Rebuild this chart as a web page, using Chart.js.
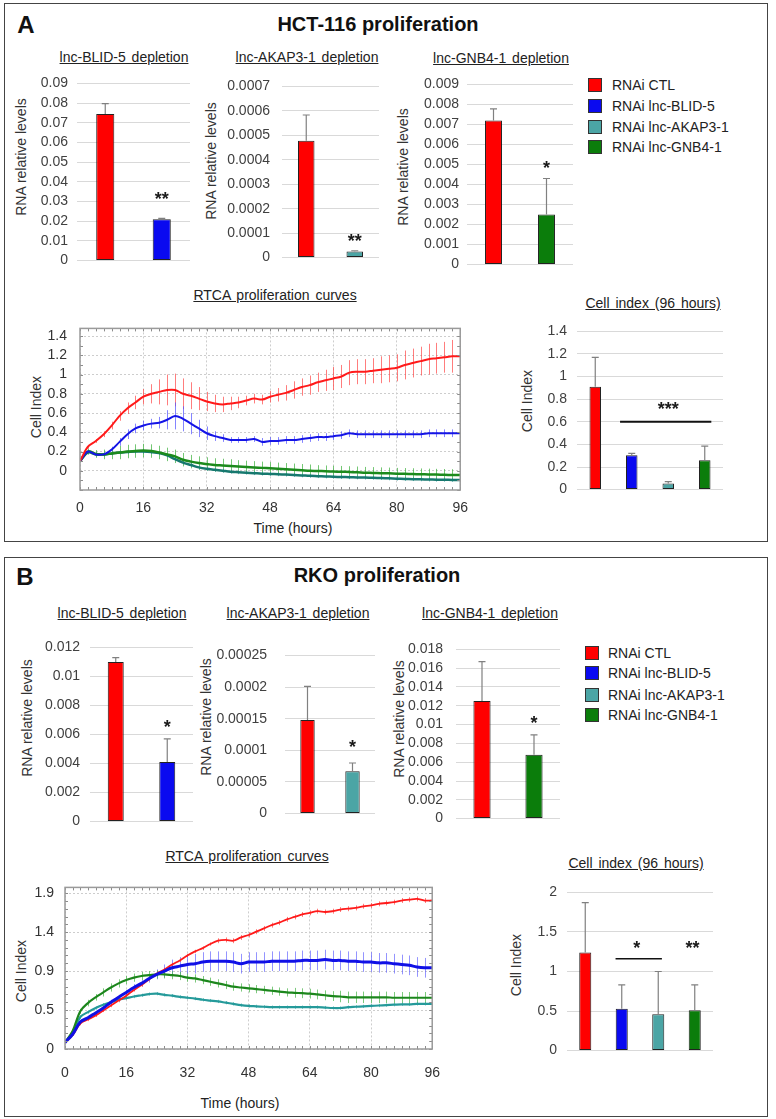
<!DOCTYPE html>
<html>
<head>
<meta charset="utf-8">
<script src="https://cdn.jsdelivr.net/npm/chart.js@4.4.0/dist/chart.umd.min.js"></script>
<style>
  body { margin: 0; background: #fff; font-family: "Liberation Sans", Arial, sans-serif; color: #222; }
  #page { position: relative; width: 776px; height: 1119px; overflow: hidden; }
  .panel { position: absolute; border: 1.5px solid #444; box-sizing: border-box; }
  .t { position: absolute; white-space: pre; line-height: 1; transform: translate(-50%, -50%); font-size: 14px; }
  .u { text-decoration: underline; word-spacing: 2px; color: #222; }
  .rot { transform: translate(-50%, -50%) rotate(-90deg); color: #333; }
  .big { font-weight: bold; font-size: 20px; color: #111; }
  .lab { font-weight: bold; font-size: 24px; color: #111; }
  canvas { position: absolute; }
  .lg { position: absolute; font-size: 14px; white-space: nowrap; line-height: 1; color: #222; }
  .sq { position: absolute; width: 14px; height: 14px; border: 1px solid #333; box-sizing: border-box; }
</style>
</head>
<body>
<div id="page">
  <div class="panel" style="left:4px;top:3px;width:764px;height:539px"></div>
  <div class="panel" style="left:4px;top:557px;width:764px;height:560px"></div>
</div>
<script>
const FONT = '"Liberation Sans", Arial, sans-serif';
Chart.defaults.font.family = FONT;

// groups and colours
const groups = ["RNAi CTL", "RNAi lnc-BLID-5", "RNAi lnc-AKAP3-1", "RNAi lnc-GNB4-1"];
const groupColors = ["#ff0000", "#0a0af0", "#4ba5a5", "#0b7d0b"];

// ---- HCT-116 depletion bars ----
const hctBlid = [0.0745, 0.021];
const hctBlidSd = [0.0052, 0.0004];
const hctAkap = [0.000478, 0.0000245];
const hctAkapSd = [0.000105, 0.0000035];
const hctGnb = [0.0072, 0.0025];
const hctGnbSd = [0.00058, 0.0018];
const hctBlidTicks = ["0", "0.01", "0.02", "0.03", "0.04", "0.05", "0.06", "0.07", "0.08", "0.09"];
const hctAkapTicks = ["0", "0.0001", "0.0002", "0.0003", "0.0004", "0.0005", "0.0006", "0.0007"];
const hctGnbTicks = ["0", "0.001", "0.002", "0.003", "0.004", "0.005", "0.006", "0.007", "0.008", "0.009"];

// ---- HCT-116 cell index at 96 h ----
const hctCell = [0.91, 0.305, 0.055, 0.26];
const hctCellSd = [0.26, 0.015, 0.015, 0.125];
const hctCellTicks = ["0", "0.2", "0.4", "0.6", "0.8", "1", "1.2", "1.4"];

// ---- RKO depletion bars ----
const rkoBlid = [0.011, 0.0041];
const rkoBlidSd = [0.0003, 0.0016];
const rkoAkap = [0.000148, 0.000067];
const rkoAkapSd = [0.000053, 0.000013];
const rkoGnb = [0.0125, 0.0068];
const rkoGnbSd = [0.0042, 0.0021];
const rkoBlidTicks = ["0", "0.002", "0.004", "0.006", "0.008", "0.01", "0.012"];
const rkoAkapTicks = ["0", "0.00005", "0.0001", "0.00015", "0.0002", "0.00025"];
const rkoGnbTicks = ["0", "0.002", "0.004", "0.006", "0.008", "0.01", "0.012", "0.014", "0.016", "0.018"];

// ---- RKO cell index at 96 h ----
const rkoCell = [1.24, 0.53, 0.46, 0.51];
const rkoCellSd = [0.63, 0.30, 0.54, 0.32];
const rkoCellTicks = ["0", "0.5", "1", "1.5", "2"];

// ---- RTCA curves (every 2 h) ----
const hours = [0,2,4,6,8,10,12,14,16,18,20,22,24,26,28,30,32,34,36,38,40,42,44,46,48,50,52,54,56,58,60,62,64,66,68,70,72,74,76,78,80,82,84,86,88,90,92,94,96];
const hourTicks = [0, 16, 32, 48, 64, 80, 96];

const hctRed = [0.10,0.25,0.31,0.38,0.47,0.57,0.65,0.71,0.77,0.80,0.82,0.84,0.84,0.80,0.78,0.75,0.72,0.70,0.69,0.70,0.71,0.73,0.75,0.74,0.77,0.79,0.81,0.84,0.87,0.89,0.92,0.94,0.96,0.98,1.02,1.03,1.03,1.04,1.05,1.06,1.07,1.10,1.12,1.14,1.16,1.17,1.18,1.19,1.19];
const hctRedSd = [0.01,0.02,0.02,0.03,0.04,0.05,0.06,0.07,0.08,0.10,0.13,0.16,0.17,0.16,0.14,0.12,0.10,0.09,0.08,0.07,0.06,0.05,0.05,0.05,0.06,0.07,0.08,0.09,0.09,0.10,0.10,0.11,0.12,0.12,0.13,0.13,0.13,0.13,0.14,0.14,0.14,0.15,0.15,0.15,0.16,0.16,0.16,0.17,0.17];
const hctBlue = [0.10,0.20,0.17,0.17,0.22,0.30,0.38,0.44,0.47,0.49,0.50,0.53,0.57,0.54,0.49,0.44,0.39,0.36,0.34,0.32,0.32,0.32,0.33,0.30,0.31,0.31,0.32,0.32,0.33,0.34,0.35,0.35,0.36,0.37,0.39,0.38,0.38,0.38,0.38,0.38,0.38,0.38,0.38,0.38,0.39,0.39,0.39,0.39,0.39];
const hctBlueSd = [0.01,0.02,0.02,0.02,0.03,0.04,0.05,0.05,0.05,0.05,0.06,0.10,0.14,0.13,0.11,0.09,0.07,0.05,0.04,0.03,0.03,0.03,0.03,0.04,0.04,0.04,0.04,0.04,0.04,0.04,0.04,0.04,0.04,0.04,0.04,0.04,0.04,0.04,0.04,0.04,0.04,0.04,0.04,0.04,0.04,0.04,0.04,0.04,0.04];
const hctGreen = [0.10,0.20,0.175,0.17,0.18,0.19,0.20,0.205,0.21,0.205,0.19,0.17,0.15,0.115,0.095,0.08,0.07,0.06,0.055,0.05,0.045,0.04,0.035,0.03,0.025,0.02,0.015,0.01,0.005,0.0,-0.002,-0.005,-0.008,-0.01,-0.013,-0.016,-0.02,-0.022,-0.025,-0.027,-0.03,-0.032,-0.034,-0.036,-0.038,-0.04,-0.042,-0.044,-0.045];
const hctGreenSd = [0.01,0.03,0.04,0.05,0.06,0.07,0.07,0.07,0.07,0.07,0.07,0.07,0.07,0.07,0.07,0.07,0.07,0.07,0.07,0.07,0.065,0.065,0.065,0.065,0.065,0.065,0.065,0.065,0.065,0.065,0.06,0.06,0.06,0.06,0.06,0.06,0.06,0.06,0.06,0.06,0.06,0.06,0.06,0.06,0.06,0.06,0.06,0.06,0.06];
const hctTeal = [0.10,0.19,0.17,0.17,0.18,0.19,0.195,0.20,0.20,0.195,0.185,0.16,0.12,0.085,0.06,0.035,0.02,0.01,0.0,-0.01,-0.015,-0.02,-0.025,-0.03,-0.033,-0.036,-0.04,-0.044,-0.048,-0.053,-0.056,-0.059,-0.062,-0.065,-0.067,-0.069,-0.071,-0.073,-0.076,-0.079,-0.082,-0.085,-0.087,-0.089,-0.091,-0.093,-0.094,-0.095,-0.096];
const hctTealSd = [0.01,0.02,0.02,0.02,0.02,0.02,0.02,0.02,0.02,0.02,0.02,0.02,0.02,0.02,0.02,0.02,0.02,0.02,0.02,0.02,0.02,0.02,0.02,0.02,0.02,0.02,0.02,0.02,0.02,0.02,0.02,0.02,0.02,0.02,0.02,0.02,0.02,0.02,0.02,0.02,0.02,0.02,0.02,0.02,0.02,0.02,0.02,0.02,0.02];
const hctRtcaTicks = ["0", "0.2", "0.4", "0.6", "0.8", "1", "1.2", "1.4"];

const rkoRed = [0.08,0.17,0.31,0.36,0.41,0.47,0.53,0.59,0.65,0.72,0.78,0.85,0.92,0.97,1.03,1.08,1.14,1.19,1.23,1.28,1.32,1.33,1.32,1.36,1.39,1.43,1.47,1.51,1.54,1.58,1.61,1.64,1.66,1.68,1.67,1.68,1.70,1.71,1.72,1.74,1.75,1.77,1.78,1.79,1.81,1.82,1.83,1.81,1.81];
const rkoRedSd = [0.01,0.01,0.02,0.02,0.02,0.02,0.02,0.02,0.02,0.02,0.02,0.02,0.02,0.02,0.02,0.02,0.02,0.02,0.02,0.02,0.03,0.03,0.03,0.03,0.03,0.03,0.03,0.03,0.03,0.03,0.03,0.03,0.03,0.03,0.03,0.03,0.03,0.03,0.03,0.03,0.03,0.03,0.03,0.03,0.03,0.03,0.03,0.03,0.03];
const rkoBlue = [0.08,0.18,0.33,0.38,0.44,0.50,0.57,0.63,0.69,0.75,0.80,0.86,0.91,0.95,0.99,1.01,1.03,1.04,1.06,1.07,1.07,1.07,1.06,1.04,1.06,1.06,1.06,1.07,1.07,1.07,1.07,1.08,1.08,1.08,1.09,1.08,1.08,1.07,1.07,1.06,1.06,1.05,1.05,1.04,1.03,1.02,1.00,0.99,0.99];
const rkoBlueSd = [0.01,0.01,0.02,0.02,0.02,0.02,0.03,0.03,0.03,0.04,0.04,0.05,0.06,0.08,0.10,0.11,0.12,0.12,0.12,0.12,0.12,0.12,0.12,0.12,0.12,0.12,0.12,0.12,0.12,0.12,0.12,0.12,0.12,0.12,0.12,0.12,0.12,0.12,0.12,0.12,0.12,0.12,0.12,0.12,0.12,0.12,0.12,0.12,0.12];
const rkoGreen = [0.08,0.22,0.46,0.56,0.63,0.69,0.75,0.80,0.84,0.87,0.89,0.90,0.91,0.91,0.90,0.89,0.87,0.86,0.84,0.82,0.80,0.78,0.76,0.75,0.74,0.73,0.72,0.71,0.70,0.69,0.685,0.68,0.675,0.665,0.655,0.645,0.64,0.63,0.63,0.63,0.63,0.63,0.63,0.625,0.625,0.625,0.625,0.625,0.625];
const rkoGreenSd = [0.01,0.02,0.03,0.04,0.04,0.05,0.05,0.05,0.05,0.05,0.05,0.05,0.05,0.05,0.05,0.05,0.05,0.05,0.05,0.05,0.05,0.05,0.05,0.05,0.05,0.05,0.05,0.05,0.05,0.05,0.06,0.06,0.06,0.06,0.06,0.06,0.07,0.07,0.07,0.07,0.07,0.07,0.07,0.07,0.07,0.07,0.07,0.07,0.07];
const rkoTeal = [0.08,0.20,0.39,0.45,0.50,0.54,0.57,0.60,0.62,0.64,0.655,0.67,0.675,0.66,0.65,0.635,0.625,0.615,0.60,0.59,0.58,0.565,0.55,0.535,0.525,0.52,0.515,0.51,0.51,0.51,0.51,0.51,0.51,0.51,0.505,0.50,0.50,0.51,0.515,0.52,0.525,0.53,0.535,0.54,0.545,0.545,0.55,0.55,0.55];
const rkoTealSd = [0.01,0.02,0.02,0.02,0.02,0.02,0.02,0.02,0.02,0.02,0.02,0.02,0.02,0.02,0.02,0.02,0.02,0.02,0.02,0.02,0.02,0.02,0.02,0.02,0.02,0.02,0.02,0.02,0.02,0.02,0.02,0.02,0.02,0.02,0.02,0.02,0.02,0.02,0.02,0.02,0.02,0.02,0.02,0.02,0.02,0.02,0.02,0.02,0.02];
const rkoRtcaTickValues = [0, 0.475, 0.95, 1.425, 1.9];
const rkoRtcaTicks = ["0", "0.5", "0.9", "1.4", "1.9"];

const page = document.getElementById("page");

function text(str, cx, cy, cls) {
  const d = document.createElement("div");
  d.className = "t " + cls;
  d.textContent = str;
  d.style.left = cx + "px";
  d.style.top = cy + "px";
  page.appendChild(d);
}

function legend(x, rows, textX) {
  groups.forEach((g, i) => {
    const s = document.createElement("div");
    s.className = "sq";
    s.style.left = x + "px";
    s.style.top = (rows[i] - 7) + "px";
    s.style.background = groupColors[i];
    page.appendChild(s);
    const l = document.createElement("div");
    l.className = "lg";
    l.textContent = g;
    l.style.left = textX + "px";
    l.style.top = (rows[i] - 7) + "px";
    page.appendChild(l);
  });
}

function addCanvas(l, t, w, h) {
  const cv = document.createElement("canvas");
  cv.width = w; cv.height = h;
  cv.style.left = l + "px"; cv.style.top = t + "px";
  page.appendChild(cv);
  return cv;
}

// error bars, stars and significance lines on the bar charts
function barMarks(marks) {
  return {
    id: "barMarks",
    afterDatasetsDraw(chart) {
      const { ctx, scales: { x, y } } = chart;
      const ds = chart.data.datasets[0];
      ctx.save();
      ctx.strokeStyle = "#808080";
      ctx.lineWidth = 1.2;
      chart.getDatasetMeta(0).data.forEach((bar, i) => {
        const top = y.getPixelForValue(ds.data[i] + ds.err[i]);
        ctx.beginPath();
        ctx.moveTo(bar.x, bar.y);
        ctx.lineTo(bar.x, top);
        ctx.moveTo(bar.x - 3.5, top);
        ctx.lineTo(bar.x + 3.5, top);
        ctx.stroke();
      });
      ctx.fillStyle = "#1a1a1a";
      ctx.textAlign = "center";
      ctx.font = "bold 18px " + FONT;
      (marks.stars || []).forEach(s => {
        ctx.fillText(s.text, x.getPixelForValue(s.at), y.getPixelForValue(s.y) + 10);
      });
      ctx.strokeStyle = "#111";
      (marks.lines || []).forEach(l => {
        ctx.lineWidth = l.w;
        ctx.beginPath();
        ctx.moveTo(x.getPixelForValue(l.from), y.getPixelForValue(l.y));
        ctx.lineTo(x.getPixelForValue(l.to), y.getPixelForValue(l.y));
        ctx.stroke();
      });
      ctx.restore();
    }
  };
}

function barChart(geo, vals, sds, colors, ticks, pct, marks) {
  const padL = 75, padT = 14, padR = 8, padB = 8;
  const cv = addCanvas(geo.l - padL, geo.t - padT, geo.r - geo.l + padL + padR, geo.b - geo.t + padT + padB);
  new Chart(cv, {
    type: "bar",
    data: {
      labels: vals.map((v, i) => i),
      datasets: [{
        data: vals, err: sds, backgroundColor: colors, borderColor: "#222",
        borderWidth: 1, borderSkipped: false, barPercentage: pct, categoryPercentage: 1
      }]
    },
    options: {
      responsive: false, animation: false, events: [],
      layout: { padding: { top: padT, right: padR, bottom: padB, left: 0 } },
      plugins: { legend: { display: false }, tooltip: { enabled: false } },
      scales: {
        x: { display: false },
        y: {
          min: 0, max: +ticks[ticks.length - 1],
          afterBuildTicks: s => { s.ticks = ticks.map(v => ({ value: +v })); },
          afterFit: s => { s.width = padL; },
          ticks: { padding: geo.pad, color: "#404040", font: { size: 14 }, callback: (v, i) => ticks[i] },
          grid: { color: "#d9d9d9", drawTicks: false },
          border: { display: false }
        }
      }
    },
    plugins: [barMarks(marks)]
  });
}

// error bars, frame and small ticks on the RTCA plots
function rtcaDeco(minorY) {
  return {
    id: "rtcaDeco",
    beforeDatasetsDraw(chart) {
      const { ctx, chartArea: a, scales: { x, y } } = chart;
      ctx.save();
      ctx.beginPath();
      ctx.rect(a.left, a.top, a.right - a.left, a.bottom - a.top);
      ctx.clip();
      ctx.lineWidth = 1;
      chart.data.datasets.forEach(ds => {
        ctx.strokeStyle = ds.errColor;
        ctx.beginPath();
        ds.data.forEach((p, i) => {
          const px = Math.round(x.getPixelForValue(p.x)) + 0.5;
          ctx.moveTo(px, y.getPixelForValue(p.y - ds.err[i]));
          ctx.lineTo(px, y.getPixelForValue(p.y + ds.err[i]));
        });
        ctx.stroke();
      });
      ctx.restore();
    },
    afterDraw(chart) {
      const { ctx, chartArea: a, scales: { x, y } } = chart;
      ctx.save();
      ctx.strokeStyle = "#8c8c8c";
      ctx.lineWidth = 1;
      ctx.beginPath();
      hours.forEach(h => {
        const px = Math.round(x.getPixelForValue(h)) + 0.5;
        ctx.moveTo(px, a.top); ctx.lineTo(px, a.top + 3);
        ctx.moveTo(px, a.bottom); ctx.lineTo(px, a.bottom - 3);
      });
      for (let v = y.min; v <= y.max + 1e-9; v += minorY) {
        const py = Math.round(y.getPixelForValue(v)) + 0.5;
        ctx.moveTo(a.left, py); ctx.lineTo(a.left + 3, py);
        ctx.moveTo(a.right, py); ctx.lineTo(a.right - 3, py);
      }
      ctx.stroke();
      ctx.strokeStyle = "#9a9a9a";
      ctx.lineWidth = 1.5;
      ctx.strokeRect(a.left, a.top, a.right - a.left, a.bottom - a.top);
      ctx.restore();
    }
  };
}

function rtcaChart(geo, series, yVals, yLabels, yMin, yMax, minorY) {
  const padL = 60, padT = 8, padR = 14, padB = 40;
  const cv = addCanvas(geo.l - padL, geo.t - padT, geo.r - geo.l + padL + padR, geo.b - geo.t + padT + padB);
  new Chart(cv, {
    type: "line",
    data: {
      datasets: series.map(s => ({
        data: hours.map((h, i) => ({ x: h, y: s.vals[i] })),
        err: s.err, errColor: s.errColor, borderColor: s.color, borderWidth: s.w,
        pointRadius: 0, tension: 0.35, fill: false
      }))
    },
    options: {
      responsive: false, animation: false, events: [],
      layout: { padding: { top: padT, right: padR, bottom: 0, left: 0 } },
      plugins: { legend: { display: false }, tooltip: { enabled: false } },
      scales: {
        x: {
          type: "linear", min: 0, max: 96,
          afterBuildTicks: s => { s.ticks = hourTicks.map(v => ({ value: v })); },
          afterFit: s => { s.height = padB; },
          ticks: { padding: geo.xPad, color: "#333", font: { size: 14 } },
          grid: { color: "#cdcdcd", drawTicks: false },
          border: { display: false, dash: [2, 2] }
        },
        y: {
          min: yMin, max: yMax,
          afterBuildTicks: s => { s.ticks = yVals.map(v => ({ value: v })); },
          afterFit: s => { s.width = padL; },
          ticks: { padding: geo.yPad, color: "#333", font: { size: 14 }, callback: (v, i) => yLabels[i] },
          grid: { color: "#cdcdcd", drawTicks: false },
          border: { display: false, dash: [2, 2] }
        }
      }
    },
    plugins: [rtcaDeco(minorY)]
  });
}

// ---------- panel A ----------
text("A", 26, 25, "lab");
text("HCT-116 proliferation", 378, 24, "big");
text("lnc-BLID-5 depletion", 124, 57, "u");
text("lnc-AKAP3-1 depletion", 307, 57, "u");
text("lnc-GNB4-1 depletion", 501, 58, "u");
text("RNA relative levels", 21, 157, "rot");
text("RNA relative levels", 211, 161, "rot");
text("RNA relative levels", 403, 167, "rot");
legend(588, [85, 106, 127, 147], 612);

barChart({ l: 77, t: 80, r: 190, b: 270, pad: 9 }, hctBlid, hctBlidSd, [groupColors[0], groupColors[1]],
  hctBlidTicks, 0.32, { stars: [{ text: "**", at: 1, y: 0.0332 }] });
barChart({ l: 282, t: 80, r: 379, b: 270, pad: 12 }, hctAkap, hctAkapSd, [groupColors[0], groupColors[2]],
  hctAkapTicks, 0.34, { stars: [{ text: "**", at: 1, y: 0.0000847 }] });
barChart({ l: 467, t: 82, r: 573, b: 273, pad: 8 }, hctGnb, hctGnbSd, [groupColors[0], groupColors[3]],
  hctGnbTicks, 0.32, { stars: [{ text: "*", at: 1, y: 0.005 }] });

text("RTCA proliferation curves", 275, 295, "u");
text("Cell Index", 36, 407, "rot");
text("Time (hours)", 293, 528, "");
rtcaChart({ l: 80, t: 315, r: 464, b: 490, yPad: 13, xPad: 10 }, [
  { vals: hctRed, err: hctRedSd, color: "#ff1a1a", errColor: "rgba(255,70,70,0.7)", w: 2 },
  { vals: hctBlue, err: hctBlueSd, color: "#1414e6", errColor: "rgba(80,80,255,0.7)", w: 2 },
  { vals: hctGreen, err: hctGreenSd, color: "#1c8a1c", errColor: "rgba(70,180,70,0.75)", w: 2.5 },
  { vals: hctTeal, err: hctTealSd, color: "#16786e", errColor: "rgba(50,160,160,0.7)", w: 2.5 }
], hctRtcaTicks.map(Number), hctRtcaTicks, -0.2, 1.48, 0.1);

text("Cell index (96 hours)", 653, 303, "u");
text("Cell Index", 527, 401, "rot");
barChart({ l: 577, t: 327, r: 723, b: 500, pad: 10 }, hctCell, hctCellSd, groupColors,
  hctCellTicks, 0.315, {
    stars: [{ text: "***", at: 2, y: 0.745 }],
    lines: [{ from: 0.68, to: 3.18, y: 0.6, w: 2 }]
  });

// ---------- panel B ----------
text("B", 25, 577, "lab");
text("RKO proliferation", 377, 575, "big");
text("lnc-BLID-5 depletion", 122, 613, "u");
text("lnc-AKAP3-1 depletion", 298, 613, "u");
text("lnc-GNB4-1 depletion", 490, 613, "u");
text("RNA relative levels", 27, 718, "rot");
text("RNA relative levels", 206, 717, "rot");
text("RNA relative levels", 399, 719, "rot");
legend(585, [653, 673, 695, 715], 608);

barChart({ l: 90, t: 643, r: 193, b: 832, pad: 10 }, rkoBlid, rkoBlidSd, [groupColors[0], groupColors[1]],
  rkoBlidTicks, 0.31, { stars: [{ text: "*", at: 1, y: 0.0068 }] });
barChart({ l: 285, t: 643, r: 375, b: 832, pad: 18 }, rkoAkap, rkoAkapSd, [groupColors[0], groupColors[2]],
  rkoAkapTicks, 0.32, { stars: [{ text: "*", at: 1, y: 0.000112 }] });
barChart({ l: 456, t: 642, r: 560, b: 832, pad: 13 }, rkoGnb, rkoGnbSd, [groupColors[0], groupColors[3]],
  rkoGnbTicks, 0.33, { stars: [{ text: "*", at: 1, y: 0.0106 }] });

text("RTCA proliferation curves", 247, 856, "u");
text("Cell Index", 21, 971, "rot");
text("Time (hours)", 240, 1103, "");
rtcaChart({ l: 64.5, t: 876, r: 442, b: 1049, yPad: 11, xPad: 16 }, [
  { vals: rkoBlue, err: rkoBlueSd, color: "#1010e6", errColor: "rgba(90,90,255,0.65)", w: 3 },
  { vals: rkoRed, err: rkoRedSd, color: "#ff1a1a", errColor: "rgba(255,70,70,0.7)", w: 1.8 },
  { vals: rkoGreen, err: rkoGreenSd, color: "#1c861c", errColor: "rgba(70,180,70,0.7)", w: 2.2 },
  { vals: rkoTeal, err: rkoTealSd, color: "#259a9a", errColor: "rgba(50,170,170,0.65)", w: 2.2 }
], rkoRtcaTickValues, rkoRtcaTicks, 0, 1.97, 0.095);

text("Cell index (96 hours)", 636, 863, "u");
text("Cell Index", 516, 965, "rot");
barChart({ l: 567, t: 888, r: 713, b: 1061, pad: 10 }, rkoCell, rkoCellSd, groupColors,
  rkoCellTicks, 0.33, {
    stars: [{ text: "*", at: 1.41, y: 1.35 }, { text: "**", at: 2.94, y: 1.35 }],
    lines: [{ from: 0.83, to: 2.1, y: 1.16, w: 1.5 }]
  });
</script>
</body>
</html>
